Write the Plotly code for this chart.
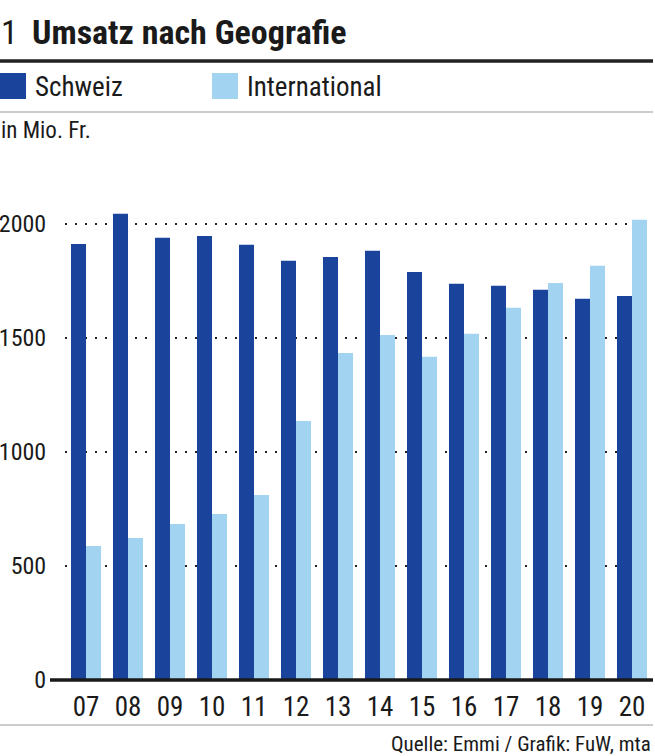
import plotly.graph_objects as go

years = ["07", "08", "09", "10", "11", "12", "13", "14", "15", "16", "17", "18", "19", "20"]
schweiz = [1912, 2044, 1939, 1947, 1908, 1838, 1855, 1882, 1789, 1737, 1728, 1711, 1671, 1684]
international = [588, 623, 684, 728, 811, 1136, 1434, 1513, 1417, 1518, 1632, 1741, 1816, 2018]
y_ticks = [0, 500, 1000, 1500, 2000]

DARK = "#1a449c"
LIGHT = "#a2d3f1"
FONT = "Roboto Condensed, Liberation Sans Narrow, Open Sans Condensed, sans-serif"

W, H = 655, 756
L, R, T, B = 65, 2, 201, 76


def f(size, color="#1a1a1a", weight="normal"):
    return dict(size=size, family=FONT, color=color, weight=weight)


fig = go.Figure()
fig.add_trace(go.Bar(x=years, y=schweiz, name="Schweiz", marker=dict(color=DARK, line=dict(width=0))))
fig.add_trace(go.Bar(x=years, y=international, name="International", marker=dict(color=LIGHT, line=dict(width=0))))

fig.update_layout(
    width=W, height=H, autosize=False,
    margin=dict(l=L, r=R, t=T, b=B, pad=0),
    paper_bgcolor="white", plot_bgcolor="white",
    barmode="group", bargap=0.285, bargroupgap=0,
    showlegend=False,
    font=f(14),
)
fig.update_yaxes(
    range=[0, 2100], tickvals=y_ticks, ticktext=[str(v) for v in y_ticks],
    showgrid=True, gridcolor="#222222", gridwidth=1.6, griddash="1.6px,8.4px",
    zeroline=False, showline=False, automargin=False,
    ticks="outside", ticklen=13, tickcolor="rgba(0,0,0,0)",
    tickfont=f(24),
    fixedrange=True,
)
fig.update_xaxes(
    showgrid=False, zeroline=False, showline=False, automargin=False,
    ticks="outside", ticklen=3, tickcolor="rgba(0,0,0,0)",
    tickfont=f(27),
    fixedrange=True,
)

PW = W - L - R
PH = H - T - B


def xp(x):
    return (x - L) / PW


def yp(y):
    return (H - y - B) / PH


shapes = []
shapes.append(dict(type="line", xref="paper", yref="paper",
                   x0=xp(50), x1=xp(653), y0=0, y1=0,
                   line=dict(color="#1a1a1a", width=3.5)))
shapes.append(dict(type="line", xref="paper", yref="paper",
                   x0=xp(0), x1=xp(653), y0=yp(61), y1=yp(61),
                   line=dict(color="#222222", width=3.5)))
shapes.append(dict(type="line", xref="paper", yref="paper",
                   x0=xp(0), x1=xp(653), y0=yp(112), y1=yp(112),
                   line=dict(color="#9a9a9a", width=1.2)))
shapes.append(dict(type="line", xref="paper", yref="paper",
                   x0=xp(0), x1=xp(653), y0=yp(725), y1=yp(725),
                   line=dict(color="#9a9a9a", width=1.2)))


def sq(x0, color):
    return dict(type="rect", xref="paper", yref="paper",
                x0=xp(x0), x1=xp(x0 + 26), y0=yp(99), y1=yp(73),
                fillcolor=color, line=dict(width=0))


shapes.append(sq(0, DARK))
shapes.append(sq(212, LIGHT))
fig.update_layout(shapes=shapes)


def ann(text, x, y, size, xanchor="left", weight="normal"):
    return dict(text=text, xref="paper", yref="paper",
                x=xp(x), y=yp(y), xanchor=xanchor, yanchor="middle",
                showarrow=False, font=f(size, weight=weight))


annotations = [
    ann("1", -1, 32, 34),
    ann("Umsatz nach Geografie", 30, 32, 34, weight="bold"),
    ann("Schweiz", 33, 87, 27),
    ann("International", 245, 87, 27),
    ann("in Mio. Fr.", -1, 130, 23),
    ann("Quelle: Emmi / Grafik: FuW, mta", 653, 744, 21, xanchor="right"),
]
fig.update_layout(annotations=annotations)

fig.write_html("out.html", config=dict(displayModeBar=False),
               post_script="document.body.style.margin='0';")
